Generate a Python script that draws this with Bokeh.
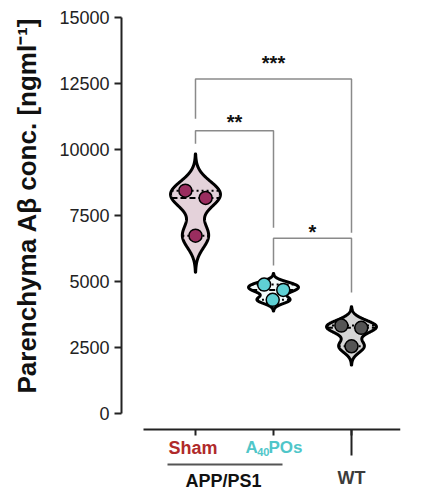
import numpy as np
from bokeh.plotting import figure
from bokeh.models import FixedTicker, Range1d, ColumnDataSource, LinearAxis
from bokeh.core.properties import value
from bokeh.embed import file_html
from bokeh.resources import INLINE

# ---------------- data ----------------
groups = ["Sham", "A40POs", "WT"]
group_x = [1, 2, 3]
sham_vals = [8440, 8164, 6737]
a40_vals = [4883, 4682, 4304]
wt_vals = [3331, 3244, 2547]
bandwidths = [463, 140, 237]
jitter = [[-0.13, 0.13, 0.0], [-0.12, 0.125, -0.01], [-0.13, 0.125, 0.0]]
yticks = [0, 2500, 5000, 7500, 10000, 12500, 15000]
y_title = "Parenchyma A\u03b2 conc. [ngml\u207b\u00b9]"

# significance brackets: left group, right group, top, left foot, right foot, star centre, label
br_left = [1, 1, 2]
br_right = [3, 2, 3]
br_top = [12669, 10712, 6635]
br_left_foot = [11166, 10220, 5602]
br_right_foot = [6851, 7040, 4580]
br_star_y = [13297, 11063, 6927]
br_labels = ["***", "**", "*"]

violin_fill = ["#e4d2da", "#f2fafa", "#d6d6d6"]
point_fill = ["#9a2d5f", "#5fd0d4", "#555555"]

FONT = "Liberation Sans"

# ---------------- figure geometry ----------------
Y1 = 15000
YPX = 15000 / 396.0          # data units per pixel
Y0 = -74 * YPX               # frame extends below the axis to hold the group labels
AXIS_Y = -16 * YPX           # x axis sits a little below zero (offset axis)
XPX = 1 / 78.0
x0 = 1 - 74 * XPX
x1 = x0 + 279 * XPX

p = figure(width=423, height=497, x_range=Range1d(x0, x1), y_range=Range1d(Y0, Y1),
           output_backend="svg", toolbar_location=None, x_axis_location=None,
           min_border_left=121, min_border_right=23, min_border_top=17, min_border_bottom=10)
p.outline_line_color = None
p.xgrid.visible = False
p.ygrid.visible = False
p.background_fill_color = "white"

# y axis
ya = p.yaxis[0]
ya.ticker = FixedTicker(ticks=yticks)
ya.bounds = (0, 15000)
ya.axis_line_width = 2
ya.axis_line_color = "#222222"
ya.major_tick_out = 7
ya.major_tick_in = 0
ya.major_tick_line_width = 2
ya.major_tick_line_color = "#222222"
ya.minor_tick_out = 0
ya.minor_tick_in = 0
ya.major_label_standoff = 5
ya.major_label_text_font = FONT
ya.major_label_text_font_size = "18px"
ya.major_label_text_color = "#222222"
# leading no-break spaces lift the visible title to sit beside the 0-15000 axis span
ya.axis_label = "\u00a0" * 13 + y_title
ya.axis_label_text_font = FONT
ya.axis_label_text_font_style = "bold"
ya.axis_label_text_font_size = "26px"
ya.axis_label_text_color = "#111111"
ya.axis_label_standoff = 14

# x axis (offset below zero)
xa = LinearAxis(fixed_location=AXIS_Y)
xa.ticker = FixedTicker(ticks=group_x)
xa.major_label_overrides = {1: "", 2: "", 3: ""}
xa.major_label_text_font_size = "1px"
xa.major_label_standoff = 0
xa.bounds = (1 - 52 * XPX, x1)
xa.axis_line_width = 2
xa.axis_line_color = "#222222"
xa.major_tick_out = 6
xa.major_tick_in = 0
xa.major_tick_line_width = 2
xa.major_tick_line_color = "#222222"
xa.minor_tick_out = 0
xa.minor_tick_in = 0
p.add_layout(xa, "below")

# ---------------- violins ----------------
all_vals = [sham_vals, a40_vals, wt_vals]
HALF_MAX = 0.32
for gi, (vals, h) in enumerate(zip(all_vals, bandwidths)):
    c = group_x[gi]
    v = np.asarray(vals, dtype=float)
    grid = np.linspace(v.min() - 3 * h, v.max() + 3 * h, 300)
    dens = np.exp(-0.5 * ((grid[None, :] - v[:, None]) / h) ** 2).sum(axis=0)
    half = dens / dens.max() * HALF_MAX
    xs = np.concatenate([c + half, (c - half)[::-1]])
    ys = np.concatenate([grid, grid[::-1]])
    p.patch(x=xs, y=ys, fill_color=violin_fill[gi], line_color="black", line_width=3,
            line_join="round")
    q1, med, q3 = np.percentile(v, [25, 50, 75], method="weibull")
    for q, dash in [(q1, "2 3"), (q3, "2 3"), (med, "6 3")]:
        hw = float(np.interp(q, grid, half))
        p.segment(x0=[c - hw], y0=[q], x1=[c + hw], y1=[q], line_color="black",
                  line_width=2, line_dash=dash)
    src = ColumnDataSource(dict(x=[c + j for j in jitter[gi]], y=list(vals)))
    p.scatter("x", "y", source=src, size=13, fill_color=point_fill[gi],
              line_color="black", line_width=1.5)

# ---------------- significance brackets ----------------
bxs, bys = [], []
for l, r, t, lf, rf in zip(br_left, br_right, br_top, br_left_foot, br_right_foot):
    bxs.append([l, l, r, r])
    bys.append([lf, t, t, rf])
p.multi_line(xs=bxs, ys=bys, line_color="#8a8a8a", line_width=1.5)
star_src = ColumnDataSource(dict(
    x=[(l + r) / 2 for l, r in zip(br_left, br_right)],
    y=[s - 1.0 * YPX for s in br_star_y],
    t=br_labels))
p.text("x", "y", text="t", source=star_src, text_align="center", text_baseline="middle",
       text_font=value(FONT), text_font_style="bold", text_font_size="20px", text_color="#111111")

# ---------------- group labels below the axis ----------------
def below(px):
    return AXIS_Y - px * YPX

def label(x, y, txt, size, color, align="center"):
    p.text(x=[x], y=[y], text=[txt], text_align=align, text_baseline="middle",
           text_font=value(FONT), text_font_style="bold", text_font_size=size,
           text_color=color)

cyan = "#4fc6c9"
label(1 - 2.5 * XPX, below(18.5), groups[0], "18px", "#b02a2a")
label(2 - 28 * XPX, below(18), "A", "17px", cyan, "left")
label(2 - 16.3 * XPX, below(22), "40", "11px", cyan, "left")
label(2 - 5 * XPX, below(18), "POs", "17px", cyan, "left")
label(3, below(48.5), groups[2], "18px", "#3c3c3c")
label(1 + 28 * XPX, below(51), "APP/PS1", "18px", "#111111")
p.segment(x0=[1 - 28 * XPX], y0=[below(35)], x1=[2 + 9 * XPX], y1=[below(35)],
          line_color="#555555", line_width=2)
p.segment(x0=[3], y0=[AXIS_Y], x1=[3], y1=[below(26)], line_color="#222222", line_width=2)

open("out.html", "w").write(file_html(p, INLINE))
